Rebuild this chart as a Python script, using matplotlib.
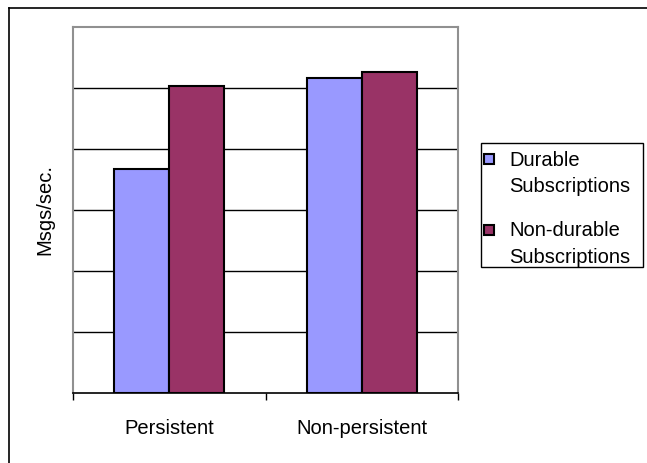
import matplotlib
matplotlib.use("Agg")
import matplotlib.pyplot as plt
from matplotlib.patches import Rectangle
import numpy as np

# values (gridline units, no scale shown)
categories = ["Persistent", "Non-persistent"]
series = ["Durable\nSubscriptions", "Non-durable\nSubscriptions"]
durable = [3.67, 5.17]
non_durable = [5.04, 5.27]
colors = ["#9999FF", "#993366"]

plt.rcParams['font.family'] = ['Liberation Sans', 'DejaVu Sans']
W, H = 647, 464
fig = plt.figure(figsize=(W / 100, H / 100), dpi=100)

# plot area in pixels: x 73..458, y 28..394
ax = fig.add_axes([73 / W, 1 - 394 / H, 385 / W, 366 / H])

x = np.arange(len(categories))
bw = 0.285
ax.bar(x - bw / 2, durable, bw, color=colors[0], edgecolor='black', linewidth=1.5,
       label=series[0], zorder=3)
ax.bar(x + bw / 2, non_durable, bw, color=colors[1], edgecolor='black', linewidth=1.5,
       label=series[1], zorder=3)

ax.set_xlim(-0.5, 1.5)
ax.set_ylim(0, 6)
for g in range(1, 6):
    ax.axhline(g, color='black', linewidth=1, zorder=1)

ax.set_yticks([])
ax.set_xticks([-0.5, 0.5, 1.5])
ax.set_xticklabels([])
ax.set_xticks(x, minor=True)
ax.set_xticklabels(categories, minor=True, fontsize=14.5)
ax.tick_params(axis='x', which='major', length=5, width=1, color='black', direction='out')
ax.tick_params(axis='x', which='minor', length=0, pad=18)

for s in ['top', 'left', 'right']:
    ax.spines[s].set_color('#909090')
    ax.spines[s].set_linewidth(1.5)
ax.spines['bottom'].set_color('black')
ax.spines['bottom'].set_linewidth(1.2)

fig.text(45 / W, 1 - 210 / H, "Msgs/sec.", rotation=90, fontsize=14.5,
         ha='center', va='center')

# legend drawn by hand so the swatch sits beside the first line of each label
def px(xp, yp):
    return xp / W, 1 - yp / H

fig.add_artist(Rectangle(px(481, 268), 162 / W, 124 / H, transform=fig.transFigure,
                         facecolor='white', edgecolor='black', linewidth=1))
for i, (name, c) in enumerate(zip(series, colors)):
    y0 = 160 + i * 71
    fig.add_artist(Rectangle(px(484, y0 + 5), 10 / W, 10 / H, transform=fig.transFigure,
                             facecolor=c, edgecolor='black', linewidth=1.5))
    for j, line in enumerate(name.split("\n")):
        fig.text(*px(509, y0 + j * 27), line, fontsize=14.5, ha='left', va='center')

# outer chart frame (only top and left edges visible in the crop)
fig.add_artist(plt.Line2D([9 / W, 1], [1 - 8.5 / H, 1 - 8.5 / H], color='black',
                          linewidth=1.2, transform=fig.transFigure))
fig.add_artist(plt.Line2D([9 / W, 9 / W], [0, 1 - 8.5 / H], color='black',
                          linewidth=1.2, transform=fig.transFigure))

fig.savefig("out.png", dpi=100)
